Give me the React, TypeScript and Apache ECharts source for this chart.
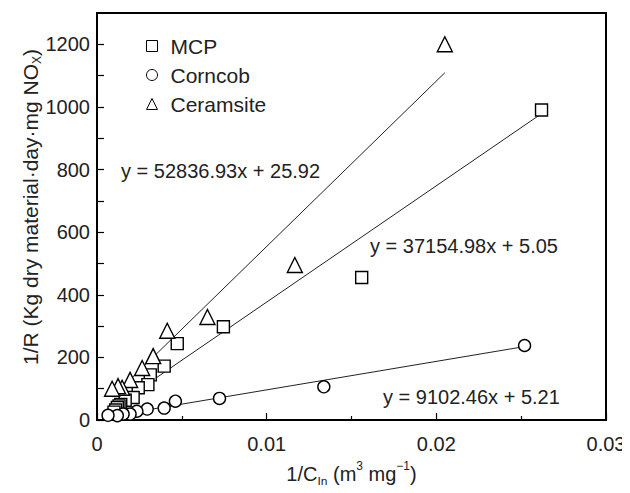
import React, { useEffect, useRef } from "react";
import * as echarts from "echarts";

const seriesNames = ["MCP", "Corncob", "Ceramsite"];

const mcpX = [0.0262, 0.0156, 0.00745, 0.00473, 0.00396, 0.00314, 0.003, 0.00243, 0.00213, 0.00166, 0.0014, 0.0013, 0.0012, 0.0011, 0.001];
const mcpY = [990, 455, 298, 244, 172, 144, 113, 103, 72, 63, 50, 45, 40, 32, 25];

const cornX = [0.0252, 0.01337, 0.00722, 0.00462, 0.00396, 0.00296, 0.00235, 0.00195, 0.00154, 0.0012, 0.00065];
const cornY = [238, 106, 69, 60, 38, 35, 28, 19, 19, 14, 15];

const ceramX = [0.0205, 0.01166, 0.00651, 0.00414, 0.00331, 0.00266, 0.00195, 0.00148, 0.00124, 0.00089];
const ceramY = [1200, 495, 329, 285, 204, 166, 128, 103, 108, 100];

const slopes = [37154.98, 9102.46, 52836.93];
const intercepts = [5.05, 5.21, 25.92];
const equations = ["y = 37154.98x + 5.05", "y = 9102.46x + 5.21", "y = 52836.93x + 25.92"];

const xTicks = [0, 0.01, 0.02, 0.03];
const yTicks = [0, 200, 400, 600, 800, 1000, 1200];

const FONT = "'Liberation Sans', Arial, Helvetica, sans-serif";

function fitLine(xs: number[], k: number, b: number) {
  const lo = Math.min(...xs);
  const hi = Math.max(...xs);
  return [
    [lo, k * lo + b],
    [hi, k * hi + b],
  ];
}

export default function App() {
  const ref = useRef<HTMLDivElement>(null);
  useEffect(() => {
    if (!ref.current) return;
    const chart = echarts.init(ref.current, null, { renderer: "svg" });
    const xsAll = [mcpX, cornX, ceramX];
    const ysAll = [mcpY, cornY, ceramY];
    const symbols = ["rect", "circle", "triangle"];
    const sizes = [12, 12, 15];
    const scatter = seriesNames.map((name, i) => ({
      name,
      type: "scatter",
      symbol: symbols[i],
      symbolSize: sizes[i],
      itemStyle: { color: "#fff", borderColor: "#000", borderWidth: 1.4, opacity: 1 },
      data: xsAll[i].map((x, j) => [x, ysAll[i][j]]),
      z: 3,
    }));
    const lines = seriesNames.map((name, i) => ({
      name: name + " fit",
      type: "line",
      symbol: "none",
      lineStyle: { color: "#222", width: 1 },
      data: fitLine(xsAll[i], slopes[i], intercepts[i]),
      z: 2,
    }));
    const eqPos = [
      { left: 370, top: 236 },
      { left: 383, top: 387 },
      { left: 121, top: 161 },
    ];
    chart.setOption({
      animation: false,
      grid: {
        left: 97,
        right: 24,
        top: 13,
        bottom: 65,
        show: true,
        borderColor: "#000",
        borderWidth: 2,
        backgroundColor: "transparent",
      },
      legend: {
        orient: "vertical",
        left: 141,
        top: 30,
        itemGap: 7,
        itemWidth: 11,
        itemHeight: 11,
        data: seriesNames.map((n, i) => ({
          name: n,
          icon: symbols[i],
          itemStyle: { color: "#fff", borderColor: "#000", borderWidth: 1 },
        })),
        textStyle: { fontFamily: FONT, fontSize: 21, color: "#222", lineHeight: 22, padding: [0, 0, 0, 8] },
      },
      xAxis: {
        type: "value",
        min: 0,
        max: 0.03,
        interval: 0.01,
        name: "{a|1/C}{sub|In}{a| (m}{sup|3}{a| mg}{sup|−1}{a|)}",
        nameLocation: "middle",
        nameGap: 40,
        nameTextStyle: {
          rich: {
            a: { fontFamily: FONT, fontSize: 20, color: "#222", lineHeight: 28 },
            sub: { fontFamily: FONT, fontSize: 12, color: "#222", verticalAlign: "bottom", lineHeight: 12 },
            sup: { fontFamily: FONT, fontSize: 12, color: "#222", verticalAlign: "top", lineHeight: 12 },
          },
        },
        axisLine: { show: true, lineStyle: { color: "#000", width: 2 } },
        axisTick: { show: true, inside: true, length: 7, lineStyle: { color: "#000", width: 1.2 } },
        minorTick: { show: true, splitNumber: 2, length: 4, lineStyle: { color: "#000", width: 1.2 } },
        splitLine: { show: false },
        axisLabel: {
          fontFamily: FONT,
          fontSize: 20,
          color: "#222",
          margin: 14,
          formatter: (v: number) => {
            const t = xTicks.find((x) => Math.abs(x - v) < 1e-9);
            return t === undefined ? "" : String(t);
          },
        },
      },
      yAxis: {
        type: "value",
        min: 0,
        max: 1300,
        interval: 100,
        axisLine: { show: true, lineStyle: { color: "#000", width: 2 } },
        axisTick: { show: true, inside: true, length: 7, lineStyle: { color: "#000", width: 1.2 } },
        splitLine: { show: false },
        axisLabel: {
          fontFamily: FONT,
          fontSize: 20,
          color: "#222",
          margin: 7,
          showMaxLabel: false,
          formatter: (v: number) => (yTicks.includes(v) ? String(v) : ""),
        },
      },
      graphic: [
        ...equations.map((t, i) => ({
          type: "text",
          left: eqPos[i].left,
          top: eqPos[i].top,
          style: { text: t, fontFamily: FONT, fontSize: 20, fill: "#222" },
        })),
        {
          type: "text",
          x: 30,
          y: 207,
          rotation: Math.PI / 2,
          style: {
            text: "{a|1/R (Kg dry material·day·mg NO}{sub|X}{a|)}",
            align: "center",
            verticalAlign: "middle",
            rich: {
              a: { fontFamily: FONT, fontSize: 21, fill: "#222", lineHeight: 26 },
              sub: { fontFamily: FONT, fontSize: 12, fill: "#222", verticalAlign: "bottom", lineHeight: 12 },
            },
          },
        },
      ],
      series: [...lines, ...scatter],
    });
    return () => chart.dispose();
  }, []);
  return <div ref={ref} style={{ width: 630, height: 493, margin: -8 }} />;
}
